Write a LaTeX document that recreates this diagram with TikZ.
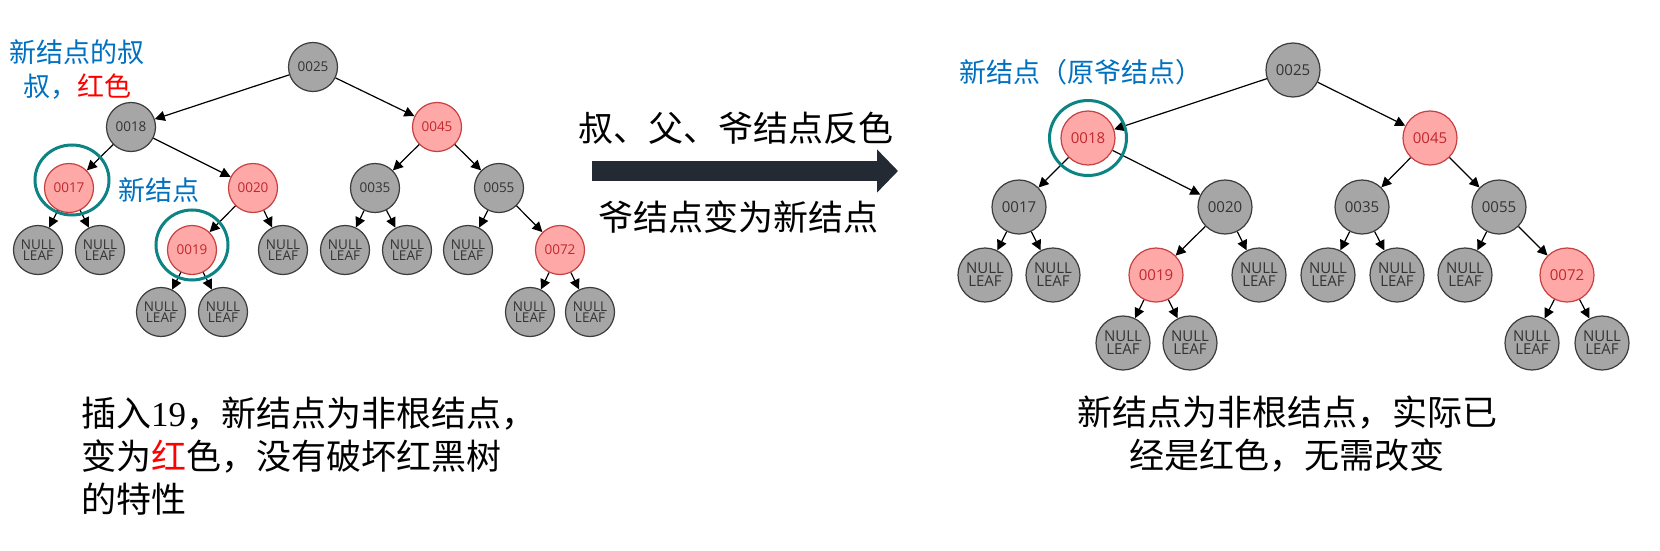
\documentclass[tikz,border=0pt]{standalone}
\usepackage{fontspec}
\setmainfont{Liberation Serif}
\newfontfamily\cjk{Noto Sans CJK SC}
\newfontfamily\numfont{Open Sans}
\newfontfamily\lat{Liberation Serif}
\usetikzlibrary{arrows.meta,shapes.geometric}
\definecolor{gfill}{HTML}{A6A6A6}
\definecolor{gdraw}{HTML}{3C3C3C}
\definecolor{gtext}{HTML}{333333}
\definecolor{rfill}{HTML}{FFA8A8}
\definecolor{rdraw}{HTML}{C84040}
\definecolor{rtext}{HTML}{C0282D}
\definecolor{teal1}{HTML}{0E8383}
\definecolor{lblue}{HTML}{0070C0}
\definecolor{arrowc}{HTML}{232A33}
\definecolor{edgec}{HTML}{3A3A3A}
\newcommand{\smallnum}{\numfont\fontsize{13.5pt}{14pt}\selectfont}
\newcommand{\largenum}{\numfont\fontsize{15pt}{16pt}\selectfont}
\tikzset{
  tnode/.style={circle, inner sep=0pt, line width=1.2pt, minimum size=49pt,
    font=\smallnum, align=center},
  gnode/.style={tnode, fill=gfill, draw=gdraw, text=gtext},
  rnode/.style={tnode, fill=rfill, draw=rdraw, text=rtext},
  bigger/.style={minimum size=54pt, font=\largenum},
  edge/.style={draw=edgec, line width=1.2pt, -{Triangle[length=10pt,width=10pt]}, black},
  hl/.style={ellipse, draw=teal1, line width=3pt, inner sep=0pt},
  lbl/.style={text=lblue, font=\cjk\fontsize{27pt}{34pt}\selectfont, inner sep=0pt, align=center},
  bigtxt/.style={font=\cjk\fontsize{35pt}{43pt}\selectfont, inner sep=0pt, text=black},
}
\newcommand{\nl}{NULL\\[-3pt]LEAF}
\begin{document}
\begin{tikzpicture}[x=1pt,y=-1pt]
\useasboundingbox[fill=white] (0,0) rectangle (1660,551);
% ---------- left tree ----------
\node[gnode] (l25) at (313,67) {0025};
\node[gnode] (l18) at (131,127) {0018};
\node[rnode] (l45) at (437,127) {0045};
\node[rnode] (l17) at (69,188) {0017};
\node[rnode] (l20) at (253,188) {0020};
\node[gnode] (l35) at (375,188) {0035};
\node[gnode] (l55) at (499,188) {0055};
\node[gnode] (l17a) at (38,250) {\nl};
\node[gnode] (l17b) at (100,250) {\nl};
\node[rnode] (l19) at (192,250) {0019};
\node[gnode] (l20b) at (283,250) {\nl};
\node[gnode] (l35a) at (345,250) {\nl};
\node[gnode] (l35b) at (407,250) {\nl};
\node[gnode] (l55a) at (468,250) {\nl};
\node[rnode] (l72) at (560,250) {0072};
\node[gnode] (l19a) at (161,312) {\nl};
\node[gnode] (l19b) at (223,312) {\nl};
\node[gnode] (l72a) at (530,312) {\nl};
\node[gnode] (l72b) at (590,312) {\nl};
\foreach \a/\b in {l25/l18,l25/l45,l18/l17,l18/l20,l17/l17a,l17/l17b,l20/l19,l20/l20b,
  l19/l19a,l19/l19b,l45/l35,l45/l55,l35/l35a,l35/l35b,l55/l55a,l55/l72,l72/l72a,l72/l72b}
  \draw[edge] (\a) -- (\b);
\node[hl, minimum width=74pt, minimum height=70pt] (h17) at (72,180) {};
\node[hl, minimum width=72pt, minimum height=70pt] (h19) at (192,245) {};
\node[lbl] (t1) at (77,70) {新结点的叔\\叔，\textcolor{red}{红色}};
\node[lbl] (t2) at (159,190) {新结点};
% ---------- right tree ----------
\node[gnode,bigger] (r25) at (1293,70) {0025};
\node[rnode,bigger] (r18) at (1088,138) {0018};
\node[rnode,bigger] (r45) at (1430,138) {0045};
\node[gnode,bigger] (r17) at (1019,207) {0017};
\node[gnode,bigger] (r20) at (1225,207) {0020};
\node[gnode,bigger] (r35) at (1362,207) {0035};
\node[gnode,bigger] (r55) at (1499,207) {0055};
\node[gnode,bigger] (r17a) at (985,275) {\nl};
\node[gnode,bigger] (r17b) at (1053,275) {\nl};
\node[rnode,bigger] (r19) at (1156,275) {0019};
\node[gnode,bigger] (r20b) at (1259,275) {\nl};
\node[gnode,bigger] (r35a) at (1328,275) {\nl};
\node[gnode,bigger] (r35b) at (1397,275) {\nl};
\node[gnode,bigger] (r55a) at (1465,275) {\nl};
\node[rnode,bigger] (r72) at (1567,275) {0072};
\node[gnode,bigger] (r19a) at (1123,343) {\nl};
\node[gnode,bigger] (r19b) at (1190,343) {\nl};
\node[gnode,bigger] (r72a) at (1532,343) {\nl};
\node[gnode,bigger] (r72b) at (1602,343) {\nl};
\foreach \a/\b in {r25/r18,r25/r45,r18/r17,r18/r20,r17/r17a,r17/r17b,r20/r19,r20/r20b,
  r19/r19a,r19/r19b,r45/r35,r45/r55,r35/r35a,r35/r35b,r55/r55a,r55/r72,r72/r72a,r72/r72b}
  \draw[edge] (\a) -- (\b);
\node[hl, minimum width=77pt, minimum height=75pt] (h18) at (1088,138) {};
\node[lbl] (t3) at (1081,72) {新结点（原爷结点）};
% ---------- middle arrow ----------
\coordinate (a1) at (592,171);
\coordinate (a2) at (898,171);
\draw[arrowc, line width=20pt, -{Triangle[length=21pt,width=42pt]}] (a1) -- (a2);
\node[bigtxt] (t4) at (736,128) {叔、父、爷结点反色};
\node[bigtxt] (t5) at (738,217) {爷结点变为新结点};
% ---------- bottom texts ----------
\node[bigtxt, anchor=west, align=left] (t6) at (81,456)
  {插入{\lat 19}，新结点为非根结点，\\变为\textcolor{red}{红}色，没有破坏红黑树\\的特性};
\node[bigtxt, align=center] (t7) at (1287,434)
  {新结点为非根结点，实际已\\经是红色，无需改变};
\end{tikzpicture}
\end{document}
